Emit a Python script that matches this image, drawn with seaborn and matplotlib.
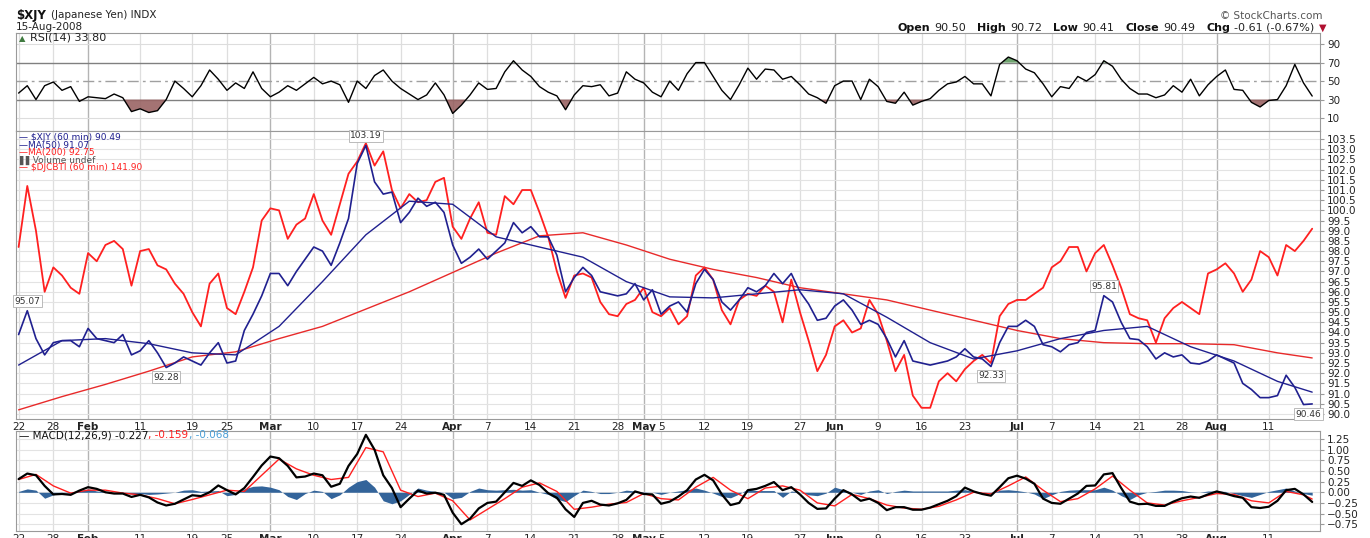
import numpy as np
import matplotlib
matplotlib.use("Agg")
import matplotlib.pyplot as plt
import seaborn as sns
from matplotlib.offsetbox import TextArea, HPacker, AnnotationBbox

# ---- data (one value per trading day from 22-Jan-2008) ----
tick_dates = ['2008-01-22', '2008-01-28', '2008-02-01', '2008-02-11', '2008-02-19', '2008-02-25',
              '2008-03-03', '2008-03-10', '2008-03-17', '2008-03-24', '2008-04-01', '2008-04-07',
              '2008-04-14', '2008-04-21', '2008-04-28', '2008-05-01', '2008-05-05', '2008-05-12',
              '2008-05-19', '2008-05-27', '2008-06-02', '2008-06-09', '2008-06-16', '2008-06-23',
              '2008-07-01', '2008-07-07', '2008-07-14', '2008-07-21', '2008-07-28', '2008-08-01',
              '2008-08-11']
tick_labels = ['22', '28', 'Feb', '11', '19', '25', 'Mar', '10', '17', '24', 'Apr', '7', '14', '21',
               '28', 'May', '5', '12', '19', '27', 'Jun', '9', '16', '23', 'Jul', '7', '14', '21',
               '28', 'Aug', '11']
months = ['Feb', 'Mar', 'Apr', 'May', 'Jun', 'Jul', 'Aug']

xjy = [93.9, 95.07, 93.7, 92.9, 93.5, 93.6, 93.6, 93.3, 94.2, 93.7,
       93.6, 93.5, 93.9, 92.9, 93.1, 93.6, 93.0, 92.28, 92.5, 92.8,
       92.6, 92.4, 93.0, 93.5, 92.5, 92.6, 94.1, 94.9, 95.8, 96.9,
       96.9, 96.3, 97.0, 97.6, 98.2, 98.0, 97.3, 98.4, 99.6, 102.3,
       103.19, 101.4, 100.8, 100.9, 99.4, 99.9, 100.6, 100.2, 100.4, 99.9,
       98.3, 97.4, 97.7, 98.1, 97.6, 98.0, 98.4, 99.4, 98.9, 99.2,
       98.7, 98.7, 97.8, 96.0, 96.7, 97.2, 96.8, 96.0, 95.9, 95.8,
       95.9, 96.4, 95.6, 96.1, 94.9, 95.3, 95.5, 95.0, 96.4, 97.1,
       96.6, 95.5, 95.1, 95.6, 96.2, 96.0, 96.3, 96.9, 96.4, 96.9,
       96.0, 95.4, 94.6, 94.7, 95.3, 95.6, 95.1, 94.4, 94.6, 94.4,
       93.7, 92.8, 93.6, 92.6, 92.5, 92.4, 92.5, 92.6, 92.8, 93.2,
       92.8, 92.7, 92.33, 93.5, 94.3, 94.3, 94.6, 94.3, 93.4, 93.3,
       93.05, 93.4, 93.5, 94.0, 94.1, 95.81, 95.5, 94.5, 93.7, 93.65,
       93.3, 92.7, 93.0, 92.8, 92.9, 92.5, 92.45, 92.6, 92.9, 92.7,
       92.5, 91.5, 91.2, 90.8, 90.8, 90.9, 91.9, 91.3, 90.46, 90.49]

djcbti = [98.2, 101.2, 99.0, 96.0, 97.2, 96.8, 96.2, 95.9, 97.9, 97.5,
          98.3, 98.5, 98.1, 96.3, 98.0, 98.1, 97.3, 97.1, 96.4, 95.9,
          95.0, 94.3, 96.4, 96.9, 95.2, 94.9, 96.0, 97.2, 99.5, 100.1,
          100.0, 98.6, 99.3, 99.6, 100.8, 99.5, 98.8, 100.3, 101.8, 102.4,
          103.3, 102.2, 102.9, 101.0, 100.1, 100.8, 100.4, 100.5, 101.4, 101.6,
          99.2, 98.6, 99.6, 100.4, 98.9, 98.8, 100.7, 100.3, 101.0, 101.0,
          99.9, 98.7, 97.0, 95.7, 96.8, 96.9, 96.7, 95.5, 94.9, 94.8,
          95.4, 95.6, 96.2, 95.0, 94.8, 95.2, 94.4, 94.8, 96.8, 97.2,
          96.6, 95.1, 94.4, 95.6, 95.9, 95.8, 96.3, 96.0, 94.5, 96.6,
          95.0, 93.6, 92.1, 92.9, 94.3, 94.6, 94.0, 94.2, 95.6, 94.9,
          93.6, 92.1, 92.9, 90.9, 90.3, 90.3, 91.6, 92.0, 91.6, 92.2,
          92.6, 92.9, 92.5, 94.8, 95.4, 95.6, 95.6, 95.9, 96.2, 97.2,
          97.5, 98.2, 98.2, 97.0, 97.9, 98.3, 97.3, 96.2, 94.9, 94.7,
          94.6, 93.5, 94.7, 95.2, 95.5, 95.2, 94.9, 96.9, 97.1, 97.4,
          96.9, 96.0, 96.6, 98.0, 97.7, 96.8, 98.3, 98.0, 98.5, 99.1]

ma_days = [0, 5, 10, 15, 20, 25, 30, 35, 40, 45, 50, 55, 60, 65, 70, 75, 80, 85, 90, 95,
           100, 105, 110, 115, 120, 125, 130, 135, 140, 145, 149]
ma50 = [92.4, 93.6, 93.7, 93.45, 93.0, 92.9, 94.3, 96.5, 98.8, 100.45,
        100.3, 98.7, 98.2, 97.7, 96.5, 95.75, 95.7, 95.9, 96.1, 95.9,
        94.75, 93.5, 92.7, 93.1, 93.7, 94.1, 94.3, 93.3, 92.6, 91.6, 91.07]
ma200 = [90.2, 90.85, 91.45, 92.1, 92.8, 93.05, 93.7, 94.3, 95.15, 96.0,
         96.95, 97.9, 98.75, 98.9, 98.3, 97.6, 97.1, 96.7, 96.2, 95.9,
         95.6, 95.1, 94.6, 94.1, 93.7, 93.5, 93.45, 93.45, 93.4, 93.0, 92.75]

rsi = [37, 45, 30, 45, 49, 40, 44, 28, 33, 32, 31, 36, 32, 17, 20, 16, 18, 30, 50, 42,
       33, 45, 62, 52, 40, 48, 42, 60, 42, 33, 38, 45, 40, 47, 54, 47, 50, 46, 27, 50,
       42, 56, 62, 50, 42, 36, 30, 35, 48, 35, 15, 24, 35, 48, 41, 42, 60, 72, 62, 55,
       44, 38, 34, 19, 35, 45, 44, 46, 34, 37, 60, 52, 48, 38, 33, 50, 40, 58, 70, 70,
       55, 40, 30, 46, 64, 52, 63, 62, 52, 55, 46, 36, 32, 26, 45, 50, 50, 30, 52, 44,
       28, 26, 38, 24, 28, 31, 40, 47, 49, 55, 47, 47, 34, 68, 76, 72, 63, 59, 47, 33,
       44, 42, 55, 50, 57, 72, 66, 52, 42, 36, 36, 32, 35, 45, 38, 52, 34, 46, 55, 62,
       41, 40, 27, 22, 29, 30, 45, 68, 48, 33.8]

macd = [0.31, 0.44, 0.40, 0.15, -0.05, -0.04, -0.06, 0.04, 0.12, 0.08,
        0.0, -0.03, -0.03, -0.11, -0.06, -0.12, -0.24, -0.31, -0.27, -0.17,
        -0.07, -0.09, 0.0, 0.16, 0.05, -0.05, 0.10, 0.36, 0.63, 0.84,
        0.80, 0.62, 0.35, 0.37, 0.44, 0.40, 0.13, 0.20, 0.62, 0.90,
        1.35, 1.00, 0.40, 0.10, -0.35, -0.15, 0.04, -0.03, -0.01, -0.06,
        -0.48, -0.75, -0.62, -0.38, -0.25, -0.22, 0.0, 0.22, 0.15, 0.28,
        0.17, -0.02, -0.13, -0.40, -0.58, -0.25, -0.20, -0.29, -0.31, -0.26,
        -0.18, 0.02, -0.04, -0.05, -0.27, -0.22, -0.10, 0.05, 0.30, 0.41,
        0.28, -0.05, -0.30, -0.25, 0.05, 0.08, 0.15, 0.24, 0.05, 0.12,
        -0.05, -0.25, -0.39, -0.38, -0.15, 0.05, -0.05, -0.20, -0.15, -0.25,
        -0.42, -0.35, -0.35, -0.41, -0.41, -0.36, -0.28, -0.20, -0.09, 0.11,
        0.02, -0.04, -0.08, 0.12, 0.33, 0.39, 0.32, 0.20, -0.15, -0.25,
        -0.27, -0.15, -0.03, 0.15, 0.16, 0.42, 0.45, 0.10, -0.22, -0.28,
        -0.27, -0.32, -0.32, -0.22, -0.14, -0.10, -0.13, -0.05, 0.02, -0.03,
        -0.09, -0.13, -0.35, -0.37, -0.34, -0.20, 0.05, 0.08, -0.05, -0.227]

signal_days = [0, 2, 4, 6, 8, 10, 12, 14, 16, 18, 20, 22, 24, 26, 28, 30, 32, 34, 36, 38,
               40, 42, 44, 46, 48, 50, 52, 54, 56, 58, 60, 62, 64, 66, 68, 70, 72, 74, 76, 78,
               80, 82, 84, 86, 88, 90, 92, 94, 96, 98, 100, 102, 104, 106, 108, 110, 112, 114,
               116, 118, 120, 122, 124, 126, 128, 130, 132, 134, 136, 138, 140, 142, 144, 146,
               148, 149]
signal = [0.30, 0.42, 0.15, -0.02, 0.05, 0.05, -0.02, -0.06, -0.15, -0.27,
          -0.17, -0.06, 0.05, 0.02, 0.40, 0.78, 0.55, 0.40, 0.30, 0.35,
          1.05, 0.95, 0.05, -0.10, -0.02, -0.20, -0.65, -0.40, -0.15, 0.12,
          0.22, 0.02, -0.40, -0.35, -0.28, -0.24, -0.03, -0.15, -0.18, 0.12,
          0.35, 0.05, -0.15, 0.10, 0.15, 0.05, -0.25, -0.32, -0.05, -0.15,
          -0.30, -0.37, -0.40, -0.33, -0.18, 0.0, -0.04, 0.15, 0.36, 0.05,
          -0.22, -0.15, 0.08, 0.38, 0.05, -0.25, -0.30, -0.20, -0.12, -0.03,
          -0.05, -0.20, -0.25, 0.02, -0.06, -0.159]

hist = [0.02, 0.08, 0.05, -0.14, -0.06, -0.02, -0.02, 0.03, 0.08, 0.03,
        0.01, 0.0, -0.02, -0.04, -0.03, -0.05, -0.04, -0.02, 0.0, 0.05,
        0.06, 0.02, 0.03, 0.04, -0.08, -0.05, 0.08, 0.14, 0.15, 0.12,
        0.06, -0.10, -0.17, -0.03, 0.05, 0.02, -0.15, -0.06, 0.12, 0.25,
        0.30, 0.12, -0.20, -0.27, -0.20, -0.05, 0.10, 0.05, 0.02, 0.0,
        -0.15, -0.12, 0.02, 0.10, 0.06, 0.05, 0.06, 0.07, 0.05, 0.06,
        0.0, -0.05, -0.16, -0.22, -0.08, 0.05, 0.02, -0.03, -0.03, 0.0,
        0.05, 0.03, 0.01, 0.0, -0.05, 0.0, 0.03, 0.06, 0.10, 0.05,
        -0.02, -0.10, -0.13, -0.04, 0.08, 0.04, 0.04, 0.04, -0.12, 0.03,
        0.0, -0.06, -0.08, -0.02, 0.12, 0.06, 0.0, -0.05, 0.03, 0.06,
        -0.03, 0.02, 0.05, 0.03, 0.03, 0.03, 0.03, 0.03, 0.05, 0.06,
        0.02, 0.0, -0.03, 0.05, 0.06, 0.04, 0.01, -0.04, -0.15, -0.06,
        0.02, 0.05, 0.06, 0.06, 0.06, 0.12, 0.05, -0.08, -0.17, -0.06,
        0.0, 0.02, 0.05, 0.05, 0.04, 0.01, 0.0, 0.03, 0.03, 0.02,
        -0.03, -0.08, -0.12, -0.05, 0.02, 0.06, 0.10, 0.03, -0.03, -0.068]

# labelled highs / lows on the price line
ext_x = [1, 40, 17, 112, 125, 148.6]
ext_y = [95.07, 103.19, 92.28, 92.33, 95.81, 90.46]
ext_side = ['above', 'above', 'below', 'below', 'above', 'below']

# ---- figure ----
sns.set_style("white")
plt.rcParams['font.family'] = ['DejaVu Sans']

W, H = 1370, 538
fig = plt.figure(figsize=(W / 100, H / 100), dpi=100, facecolor='white')


def box(left, top, right, bottom):
    return [left / W, 1 - bottom / H, (right - left) / W, (bottom - top) / H]


ax_rsi = fig.add_axes(box(16, 33, 1320, 131))
ax_main = fig.add_axes(box(16, 131, 1320, 419))
ax_macd = fig.add_axes(box(16, 431, 1320, 531))

days = np.arange(len(xjy))
tick_pos = np.busday_count(np.datetime64('2008-01-22'), np.array(tick_dates, dtype='datetime64[D]'))
navy = '#20208f'
red = '#ff2020'

for ax in (ax_rsi, ax_main, ax_macd):
    ax.set_xlim(-0.3, 149.9)
    for p, lab in zip(tick_pos, tick_labels):
        if lab in months:
            ax.axvline(p, color='#b4b4b4', lw=1.0, zorder=0)
        else:
            ax.axvline(p, color='#dedede', lw=0.9, zorder=0)
    for s in ax.spines.values():
        s.set_color('#9a9a9a')
        s.set_linewidth(0.8)
    ax.yaxis.tick_right()
    ax.tick_params(axis='y', length=3, color='#9a9a9a', labelsize=7.5, pad=2, labelcolor='#222222')
    ax.set_xticks(tick_pos)
    ax.tick_params(axis='x', length=0, labelsize=7.5, pad=2, labelcolor='#222222')

ax_rsi.set_xticklabels([])
for ax in (ax_main, ax_macd):
    ax.set_xticklabels(tick_labels)
    for t in ax.get_xticklabels():
        if t.get_text() in months:
            t.set_fontweight('bold')

# RSI panel
rsi_arr = np.array(rsi)
ax_rsi.set_ylim(-4, 102)
ax_rsi.set_yticks([10, 30, 50, 70, 90])
for v in (10, 90):
    ax_rsi.axhline(v, color='#dddddd', lw=0.8, zorder=0)
ax_rsi.axhline(70, color='#808080', lw=1.0, zorder=1)
ax_rsi.axhline(30, color='#808080', lw=1.0, zorder=1)
ax_rsi.axhline(50, color='#a0a0a0', lw=1.0, ls=(0, (8, 3, 2, 3)), zorder=1)
ax_rsi.fill_between(days, rsi_arr, 30, where=rsi_arr < 30, interpolate=True,
                    color='#9a6464', alpha=0.9, lw=0, zorder=2)
ax_rsi.fill_between(days, rsi_arr, 70, where=rsi_arr > 70, interpolate=True,
                    color='#5f9a5f', alpha=0.9, lw=0, zorder=2)
sns.lineplot(x=days, y=rsi_arr, ax=ax_rsi, color='black', linewidth=1.0, legend=False, zorder=3)

# price panel
ax_main.set_ylim(89.75, 103.9)
ax_main.set_yticks(np.arange(90, 103.51, 0.5))
ax_main.yaxis.set_major_formatter('{x:.1f}')
ax_main.grid(True, axis='y', color='#e3e3e3', lw=0.8)
ax_main.set_axisbelow(True)
sns.lineplot(x=ma_days, y=ma200, ax=ax_main, color='#e82a2a', linewidth=1.0, legend=False)
sns.lineplot(x=days, y=djcbti, ax=ax_main, color=red, linewidth=1.3, legend=False)
sns.lineplot(x=ma_days, y=ma50, ax=ax_main, color=navy, linewidth=1.0, legend=False)
sns.lineplot(x=days, y=xjy, ax=ax_main, color=navy, linewidth=1.2, legend=False)

for x, y, side in zip(ext_x, ext_y, ext_side):
    up = side == 'above'
    ax_main.annotate(f'{y:.2f}', (x, y), xytext=(0, 5 if up else -5), textcoords='offset pixels',
                     ha='center', va='bottom' if up else 'top', fontsize=6.5, color='#333333',
                     bbox=dict(boxstyle='square,pad=0.15', fc='white', ec='#b0b0b0', lw=0.6),
                     annotation_clip=False, zorder=6)

# MACD panel
ax_macd.set_ylim(-0.91, 1.44)
ax_macd.set_yticks(np.arange(-0.75, 1.26, 0.25))
ax_macd.yaxis.set_major_formatter('{x:.2f}')
ax_macd.grid(True, axis='y', color='#e3e3e3', lw=0.8)
ax_macd.set_axisbelow(True)
ax_macd.fill_between(days, hist, 0, color='#33649a', lw=0, zorder=2)
sns.lineplot(x=signal_days, y=signal, ax=ax_macd, color=red, linewidth=1.0, legend=False, zorder=3)
sns.lineplot(x=days, y=macd, ax=ax_macd, color='black', linewidth=1.6, legend=False, zorder=4)

for ax in (ax_rsi, ax_main, ax_macd):
    ax.set_xlabel('')
    ax.set_ylabel('')


# ---- text rows ----
def row(parts, sep=3):
    return HPacker(children=[TextArea(t, textprops=p) for t, p in parts],
                   align='baseline', pad=0, sep=sep)


def place(packer, x, y, ha='left'):
    ab = AnnotationBbox(packer, (x / W, 1 - y / H), xycoords='figure fraction',
                        box_alignment=(0 if ha == 'left' else 1, 0.5), frameon=False, pad=0)
    fig.add_artist(ab)


place(row([('$XJY', dict(fontsize=8.5, fontweight='bold', color='#111111')),
           ('(Japanese Yen) INDX', dict(fontsize=7.5, color='#222222'))], sep=4), 16, 15)
fig.text(16 / W, 1 - 27 / H, '15-Aug-2008', fontsize=7.5, color='#222222', va='center')
fig.text(1322 / W, 1 - 16 / H, '\u00a9 StockCharts.com', fontsize=7.5, color='#555555',
         ha='right', va='center')

bold = dict(fontsize=8, fontweight='bold', color='#111111')
norm = dict(fontsize=8, color='#222222')
quote = HPacker(children=[row([('Open', bold), ('90.50', norm)]),
                          row([('High', bold), ('90.72', norm)]),
                          row([('Low', bold), ('90.41', norm)]),
                          row([('Close', bold), ('90.49', norm)]),
                          row([('Chg', bold), ('-0.61 (-0.67%)', norm),
                               ('\u25bc', dict(fontsize=7, color='#b01030'))])],
                align='baseline', pad=0, sep=8)
place(quote, 1326, 28, ha='right')

place(row([('\u25b2', dict(fontsize=6, color='#3f7a3f')),
           ('RSI(14) 33.80', dict(fontsize=8, color='#222222'))], sep=3), 19, 38)

legend_rows = [('\u2014 $XJY (60 min) 90.49', navy), ('\u2014MA(50) 91.07', navy),
               ('\u2014MA(200) 92.75', red), ('\u258c\u258cVolume undef', '#555555'),
               ('\u2014 $DJCBTI (60 min) 141.90', red)]
for i, (txt, col) in enumerate(legend_rows):
    fig.text(19 / W, 1 - (138 + 7.5 * i) / H, txt, fontsize=6.5, color=col, va='center')

place(row([('\u2014 MACD(12,26,9) -0.227', dict(fontsize=7.5, color='#111111')),
           (', -0.159', dict(fontsize=7.5, color=red)),
           (', -0.068', dict(fontsize=7.5, color='#4a9fd8'))], sep=0), 19, 435)

fig.savefig('out.png', dpi=100, facecolor='white')
